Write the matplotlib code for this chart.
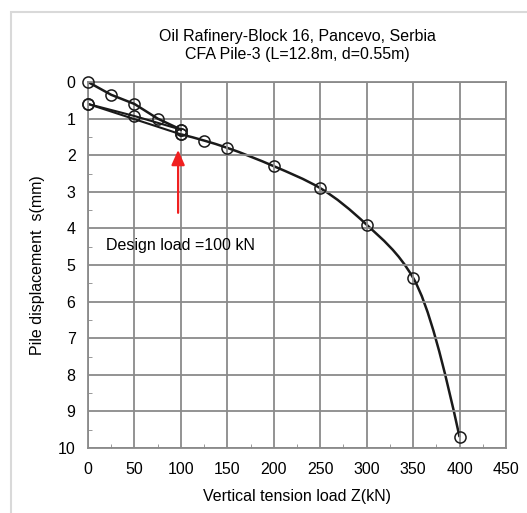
import numpy as np
import matplotlib
matplotlib.use("Agg")
from matplotlib import pyplot as plt
from matplotlib.path import Path
from matplotlib.patches import PathPatch, Rectangle

plt.rcParams['font.family'] = ['Liberation Sans', 'DejaVu Sans']

# test data: load (kN) vs pile displacement (mm)
load_first = [0, 25, 50, 75, 100]
disp_first = [0, 0.35, 0.6, 1.0, 1.3]
load_unload = [100, 50, 0]
disp_unload = [1.3, 0.93, 0.6]
load_reload = [0, 100]
disp_reload = [0.6, 1.43]
load_main = [100, 125, 150, 200, 250, 300, 350, 400]
disp_main = [1.43, 1.6, 1.8, 2.3, 2.9, 3.9, 5.35, 9.7]

design_load = 100


def smooth_path(x, y):
    # pchip style tangents, drawn as cubic bezier pieces
    x = np.asarray(x, float)
    y = np.asarray(y, float)
    h = np.diff(x)
    d = np.diff(y) / h
    m = np.zeros(len(x))
    for i in range(1, len(x) - 1):
        if d[i - 1] * d[i] > 0:
            w1 = 2 * h[i] + h[i - 1]
            w2 = h[i] + 2 * h[i - 1]
            m[i] = (w1 + w2) / (w1 / d[i - 1] + w2 / d[i])
    m[0] = ((2 * h[0] + h[1]) * d[0] - h[0] * d[1]) / (h[0] + h[1])
    m[-1] = ((2 * h[-1] + h[-2]) * d[-1] - h[-1] * d[-2]) / (h[-1] + h[-2])
    verts = [(x[0], y[0])]
    codes = [Path.MOVETO]
    for i in range(len(x) - 1):
        verts += [(x[i] + h[i] / 3, y[i] + m[i] * h[i] / 3),
                  (x[i + 1] - h[i] / 3, y[i + 1] - m[i + 1] * h[i] / 3),
                  (x[i + 1], y[i + 1])]
        codes += [Path.CURVE4] * 3
    return Path(verts, codes)


fig = plt.figure(figsize=(5.27, 5.13), dpi=100)
fig.patches.append(Rectangle((11 / 527, -0.1), 1.2, 1 - 12 / 513 + 0.1,
                             transform=fig.transFigure, fill=False,
                             edgecolor='#d9d9d9', linewidth=1.5))
ax = fig.add_axes([88 / 527, 1 - 448 / 513, 418 / 527, 366 / 513])

lc = '#1a1a1a'
ax.plot(load_first, disp_first, color=lc, lw=1.8)
ax.plot(load_unload, disp_unload, color=lc, lw=1.5)
ax.plot(load_reload, disp_reload, color=lc, lw=1.5)
ax.add_patch(PathPatch(smooth_path(load_main, disp_main), fill=False,
                       edgecolor=lc, lw=1.8))

mk = dict(ls='none', marker='o', ms=8, mfc='none', mec=lc, mew=1.1, clip_on=False, zorder=5)
for xs, ys in [(load_first, disp_first), (load_unload, disp_unload),
               (load_reload, disp_reload), (load_main, disp_main)]:
    ax.plot(xs, ys, **mk)

ax.annotate('', xy=(97, 1.78), xytext=(97, 3.65),
            arrowprops=dict(arrowstyle='-|>,head_width=0.4,head_length=0.9',
                            color='#f02020', lw=1.6))
ax.text(19, 4.48, f'Design load ={design_load} kN', fontsize=11.5, va='center')

ax.set_xlim(0, 450)
ax.set_ylim(10, 0)
ax.set_xticks(np.arange(0, 451, 50))
ax.set_yticks(np.arange(0, 11, 1))
ax.set_xticks(np.arange(25, 450, 50), minor=True)
ax.set_yticks(np.arange(0.5, 10, 1), minor=True)
ax.tick_params(which='major', length=0, labelsize=11.5)
ax.tick_params(axis='x', which='major', pad=10)
ax.tick_params(axis='y', which='major', pad=9)
ax.tick_params(which='minor', direction='in', length=3, color='#888888')
ax.grid(True, which='major', color='#8a8a8a', lw=1.3)
for s in ax.spines.values():
    s.set_color('#8a8a8a')
    s.set_linewidth(1.3)

fig.text(297 / 527, 1 - 37 / 513, 'Oil Rafinery-Block 16, Pancevo, Serbia',
         fontsize=11.5, ha='center', va='center')
fig.text(297 / 527, 1 - 55 / 513, 'CFA Pile-3 (L=12.8m, d=0.55m)',
         fontsize=11.5, ha='center', va='center')
fig.text(297 / 527, 1 - 497 / 513, 'Vertical tension load Z(kN)',
         fontsize=11.5, ha='center', va='center')
fig.text(38 / 527, 1 - 265 / 513, 'Pile displacement  s(mm)',
         fontsize=11.5, ha='center', va='center', rotation=90)

fig.savefig('out.png', dpi=100)
